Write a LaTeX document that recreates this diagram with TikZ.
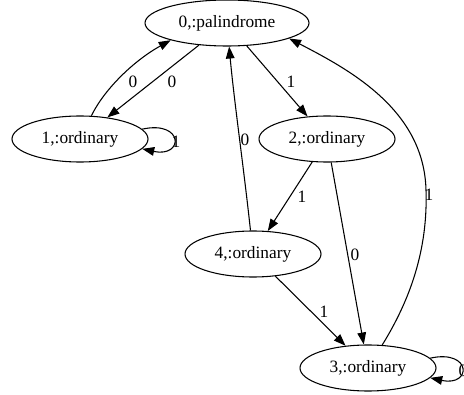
\documentclass[tikz,border=0pt]{standalone}
\usepackage{fontspec}
\setmainfont{Liberation Serif}
\usetikzlibrary{arrows.meta,shapes,calc,positioning}

\begin{document}
\begin{tikzpicture}[x=0.75pt,y=-0.75pt]
			\tikzstyle{every node}=[font=\fontsize{13}{15}\selectfont]
			\tikzstyle{state}=[ellipse, draw, line width=0.8pt, inner sep=0pt, minimum width=102pt, minimum height=34.5pt]
			\tikzstyle{edge}=[line width=0.8pt, -{Triangle[length=9pt,width=6.5pt]}]
			\tikzstyle{lbl}=[inner sep=1pt]
			\useasboundingbox (0,0) rectangle (464,395);
			\node [state, minimum width=123pt] (n0) at (227,23) {0,:palindrome};
			\node [state] (n1) at (80,139) {1,:ordinary};
			\node [state] (n2) at (327,139) {2,:ordinary};
			\node [state] (n4) at (253,254) {4,:ordinary};
			\node [state] (n3) at (368,368) {3,:ordinary};
			\draw [edge] (n1) .. controls (105,88) and (135,60) .. (n0.197) node [lbl] at (133,82) {0};
			\draw [edge] (n0) -- (n1) node [lbl] at (172,82) {0};
			\draw [edge] (n1.9) .. controls (184,120) and (184,158) .. (n1.-9) node [lbl] at (176,142) {1};
			\draw [edge] (n0) -- (n2) node [lbl] at (291,82) {1};
			\draw [edge] (n4) .. controls (244,170) and (234,100) .. (n0) node [lbl] at (245,140) {0};
			\draw [edge] (n2) -- (n4) node [lbl] at (302,197) {1};
			\draw [edge] (n2) -- (n3) node [lbl] at (355,255) {0};
			\draw [edge] (n4) -- (n3) node [lbl] at (324,312) {1};
			\draw [edge] (n3) .. controls (410,300) and (428,250) .. (426,190) .. controls (424,110) and (350,70) .. (n0.-14) node [lbl] at (429,195) {1};
			\draw [edge] (n3.9) .. controls (472,349) and (472,387) .. (n3.-9) node [lbl] at (463,371) {0};
		\end{tikzpicture}
\end{document}
